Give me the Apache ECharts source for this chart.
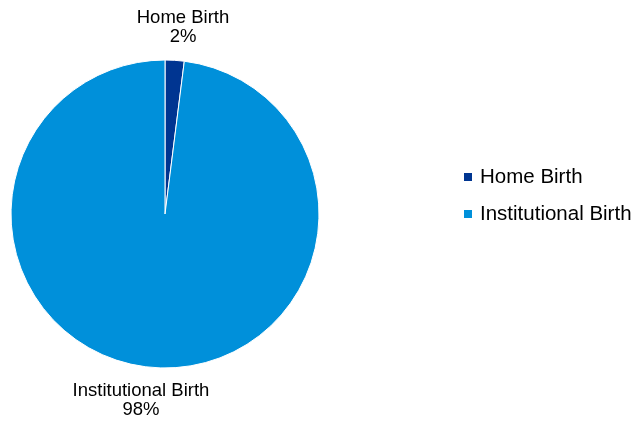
<!DOCTYPE html>
<html><head><meta charset="utf-8">
<script src="https://cdn.jsdelivr.net/npm/echarts@6/dist/echarts.min.js"></script>
<style>html,body{margin:0;padding:0;background:#fff}#c{width:639px;height:422px}</style>
</head><body><div id="c"></div>
<script>
var categories = ['Home Birth', 'Institutional Birth'];
var values = [2, 98];
var colors = ['#003591', '#0090DA'];

var chart = echarts.init(document.getElementById('c'), null, {renderer: 'canvas'});
var labelPos = {
  'Home Birth': {x: 183, y: 46},
  'Institutional Birth': {x: 141, y: 419}
};
chart.setOption({
  animation: false,
  color: colors,
  legend: {
    orient: 'vertical', left: 462, top: 166,
    icon: 'rect', itemWidth: 10, itemHeight: 10, itemGap: 15, padding: 0,
    textStyle: {fontFamily: 'Liberation Sans, Arial', fontSize: 20.5, color: '#000', lineHeight: 22, padding: [0, 0, 0, 2]},
    data: categories
  },
  series: [{
    type: 'pie',
    center: [165, 214], radius: [0, 154],
    startAngle: 90, clockwise: true,
    itemStyle: {borderColor: '#fff', borderWidth: 1},
    label: {
      show: true, position: 'outside', overflow: 'none', width: 300,
      formatter: function (p) { return p.name + '\n' + Math.round(p.percent) + '%'; },
      fontFamily: 'Liberation Sans, Arial', fontSize: 18.5, lineHeight: 19, color: '#000', align: 'center'
    },
    labelLine: {show: false},
    labelLayout: function (p) {
      var pos = labelPos[categories[p.dataIndex]];
      return {x: pos.x, y: pos.y, align: 'center', verticalAlign: 'bottom'};
    },
    data: categories.map(function (c, i) { return {name: c, value: values[i]}; })
  }]
});
</script></body></html>
